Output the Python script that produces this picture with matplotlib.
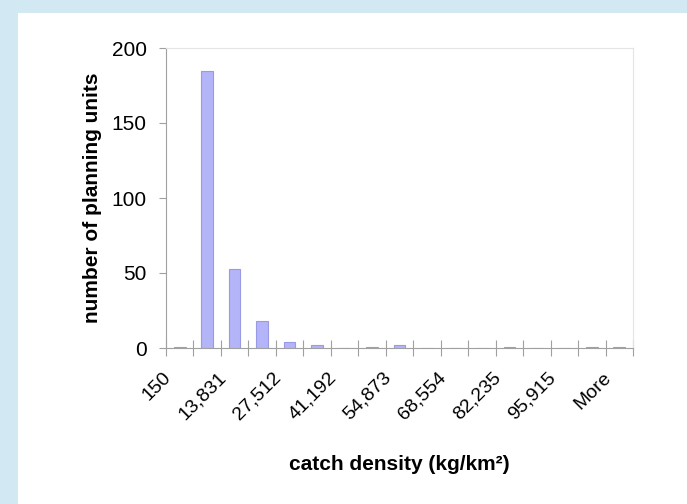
import matplotlib
matplotlib.use("Agg")
import matplotlib.pyplot as plt
import matplotlib.transforms as mtransforms
from matplotlib.patches import Rectangle

# Histogram of catch density per planning unit
bins = ["150", "6,990", "13,831", "20,671", "27,512", "34,352", "41,192", "48,033",
        "54,873", "61,713", "68,554", "75,394", "82,235", "89,075", "95,915",
        "102,755", "More"]
counts = [1, 185, 53, 18, 4, 2, 0, 1, 2, 0, 0, 0, 1, 0, 0, 1, 1]
y_ticks = [0, 50, 100, 150, 200]

plt.rcParams['font.family'] = ['Liberation Sans', 'DejaVu Sans']

fig = plt.figure(figsize=(6.87, 5.04), dpi=100)
fig.patch.set_facecolor('#d2e8f3')
# white panel over the blue frame
fig.patches.append(Rectangle((18/687, 0), 1, 1 - 13/504, transform=fig.transFigure,
                             facecolor='white', edgecolor='none', zorder=-10))

ax = fig.add_axes([166/687, 1 - 348/504, (633 - 166)/687, 300/504])
ax.set_zorder(1)
ax.set_facecolor('white')

x = list(range(len(bins)))
ax.bar(x, counts, width=0.42, color='#b4b4f8', edgecolor='#9a9ae4', linewidth=0.8, zorder=3)

ax.set_xlim(-0.5, len(bins) - 0.5)
ax.set_ylim(0, 200)
ax.set_yticks(y_ticks)
ax.tick_params(axis='y', direction='out', length=5, color='#a0a0a0', labelsize=15, pad=9)

# category boundary ticks
ax.set_xticks([i - 0.5 for i in range(len(bins) + 1)])
ax.set_xticklabels([])
ax.tick_params(axis='x', which='major', direction='inout', length=12, color='#a0a0a0')
ax.set_xticks(x[::2], minor=True)
ax.set_xticklabels(bins[::2], minor=True, rotation=45, ha='right', va='top', fontsize=14)
ax.tick_params(axis='x', which='minor', length=0, pad=15)
shift = mtransforms.ScaledTranslation(-5/100, 0, fig.dpi_scale_trans)
for lab in ax.get_xticklabels(minor=True):
    lab.set_transform(lab.get_transform() + shift)

for s in ['left', 'bottom']:
    ax.spines[s].set_color('#a0a0a0')
for s in ['top', 'right']:
    ax.spines[s].set_color('#e4e4e4')

ax.set_ylabel('number of planning units', fontsize=15, fontweight='bold', labelpad=7)
ax.set_xlabel('catch density (kg/km²)', fontsize=15, fontweight='bold')
ax.xaxis.set_label_coords((399 - 166)/467, -(455 - 348)/300)

fig.savefig('out.png', dpi=100, facecolor=fig.get_facecolor())
